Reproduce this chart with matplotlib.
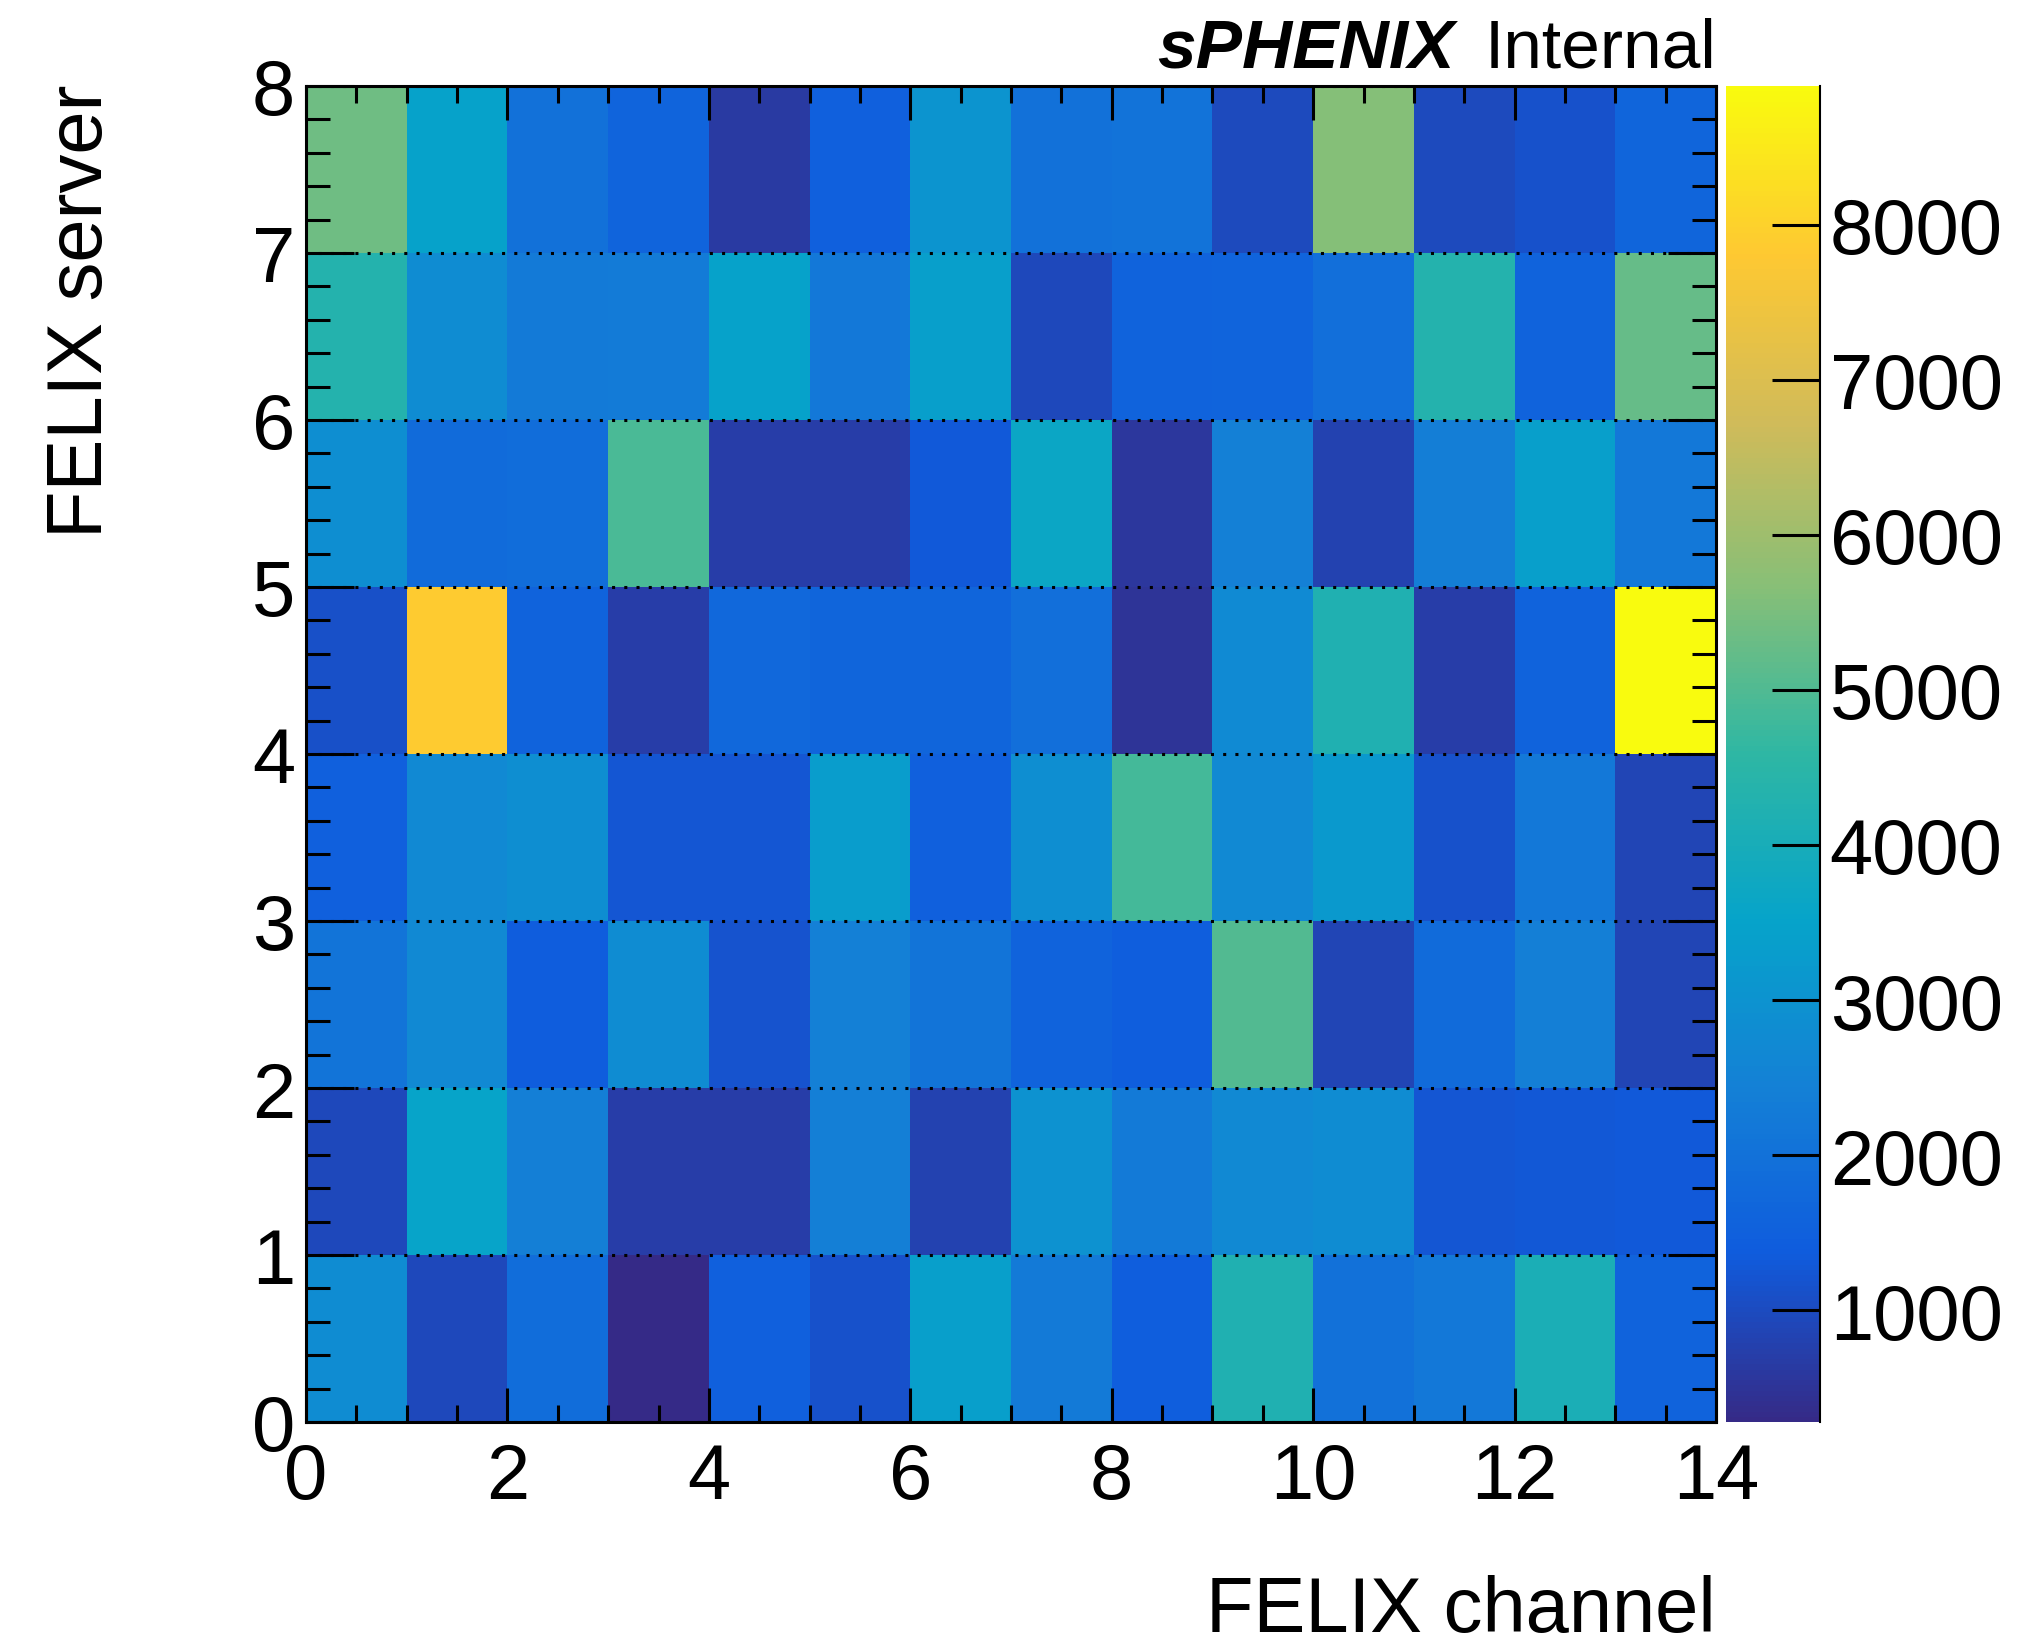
"""
FELIX Kanal-/Server-Belegung als 2D-Histogramm (COLZ-Stil).
"""

# === Imports ===
import numpy as np
import matplotlib
matplotlib.use("Agg")
import matplotlib.pyplot as plt
from matplotlib.colors import LinearSegmentedColormap
from matplotlib.ticker import MultipleLocator

plt.rcParams['font.family'] = ['Liberation Sans', 'DejaVu Sans']

# === Daten ===
# Bin-Kanten: 14 Kanäle, 8 Server
felix_kanaele = np.arange(0, 15)
felix_server = np.arange(0, 9)

# Einträge pro Server (Zeile), Kanal 0..13
server_0 = [2780, 925, 1870, 280, 1490, 1140, 3380, 2260, 1440, 4200, 2000, 2175, 4070, 1570]
server_1 = [925, 3550, 2390, 710, 710, 2390, 800, 2950, 2260, 2690, 2780, 1230, 1270, 1310]
server_2 = [2090, 2690, 1400, 2780, 1185, 2430, 2090, 1570, 1440, 5020, 880, 1830, 2390, 880]
server_3 = [1490, 2690, 2870, 1230, 1230, 3290, 1490, 2870, 4845, 2690, 3210, 1140, 2175, 880]
server_4 = [1100, 7860, 1570, 710, 1700, 1650, 1650, 1920, 495, 2735, 4200, 710, 1570, 8893]
server_5 = [2860, 1830, 1870, 4930, 710, 710, 1310, 3640, 580, 2430, 800, 2350, 3380, 2175]
server_6 = [4330, 2780, 2260, 2300, 3470, 2175, 3380, 925, 1570, 1615, 1920, 4330, 1570, 5250]
server_7 = [5360, 3470, 2000, 1610, 625, 1490, 3035, 2000, 2040, 970, 5620, 960, 1150, 1660]

farbskala_ticks = [1000, 2000, 3000, 4000, 5000, 6000, 7000, 8000]

# === ROOT kBird Palette ===
bird_stops = [0.0, 0.125, 0.25, 0.375, 0.5, 0.625, 0.75, 0.875, 1.0]
bird_rot = [0.2082, 0.0592, 0.0780, 0.0232, 0.1802, 0.5301, 0.8186, 0.9956, 0.9764]
bird_gruen = [0.1664, 0.3599, 0.5041, 0.6419, 0.7178, 0.7492, 0.7328, 0.7862, 0.9832]
bird_blau = [0.5293, 0.8684, 0.8385, 0.7914, 0.6425, 0.4662, 0.3499, 0.1968, 0.0539]
kbird = LinearSegmentedColormap.from_list(
    'kBird', list(zip(bird_stops, zip(bird_rot, bird_gruen, bird_blau))), N=255)

# === Figur ===
B, H = 2034, 1649
fig = plt.figure(figsize=(B / 100, H / 100), dpi=100)


def px_box(x0, y0, x1, y1):
    """Pixel-Rechteck (oben links = 0,0) in Figure-Koordinaten."""
    return [x0 / B, 1 - y1 / H, (x1 - x0) / B, (y1 - y0) / H]


ax = fig.add_axes(px_box(306, 87, 1716, 1423))
cax = fig.add_axes(px_box(1726, 87, 1820, 1423))

werte = np.array([server_0, server_1, server_2, server_3,
                  server_4, server_5, server_6, server_7], dtype=float)

mesh = ax.pcolormesh(felix_kanaele, felix_server, werte, cmap=kbird,
                     vmin=werte.min(), vmax=werte.max(), shading='flat')

ax.set_xlim(0, 14)
ax.set_ylim(0, 8)

# Achsen und Ticks im ROOT-Stil
ax.xaxis.set_major_locator(MultipleLocator(2))
ax.xaxis.set_minor_locator(MultipleLocator(0.5))
ax.yaxis.set_major_locator(MultipleLocator(1))
ax.yaxis.set_minor_locator(MultipleLocator(0.2))
ax.tick_params(which='both', direction='in', top=True, right=True,
               width=2.2, labelsize=56, color='black')
ax.tick_params(axis='x', which='major', length=24.5, pad=14)
ax.tick_params(axis='x', which='minor', length=12.2)
ax.tick_params(axis='y', which='major', length=34.5, pad=8)
ax.tick_params(axis='y', which='minor', length=17.3)
for spine in ax.spines.values():
    spine.set_linewidth(2.2)

ax.grid(axis='y', which='major', color='black', linewidth=2.2,
        linestyle=(0, (1, 3)))

# === Farbskala ===
cb = fig.colorbar(mesh, cax=cax)
cb.set_ticks(farbskala_ticks)
cb.minorticks_off()
cb.outline.set_visible(False)
cax.spines['right'].set_visible(True)
cax.spines['right'].set_linewidth(1.5)
cax.tick_params(direction='in', length=34.5, width=2.2, labelsize=56, pad=7)

# === Beschriftungen ===
fig.text(1716 / B, 1 - 1632 / H, 'FELIX channel', fontsize=56,
         ha='right', va='baseline')
fig.text(102 / B, 1 - 85 / H, 'FELIX server', fontsize=56, rotation=90,
         rotation_mode='anchor', ha='right', va='baseline')

t_int = fig.text(1716 / B, 1 - 67 / H, 'Internal', fontsize=50,
                 ha='right', va='baseline')
fig.canvas.draw()
bb = t_int.get_window_extent()
fig.text((bb.x0 - 30) / B, 1 - 67 / H, 'sPHENIX', fontsize=50,
         fontweight='bold', fontstyle='italic', ha='right', va='baseline')

fig.savefig('out.png', dpi=100)
